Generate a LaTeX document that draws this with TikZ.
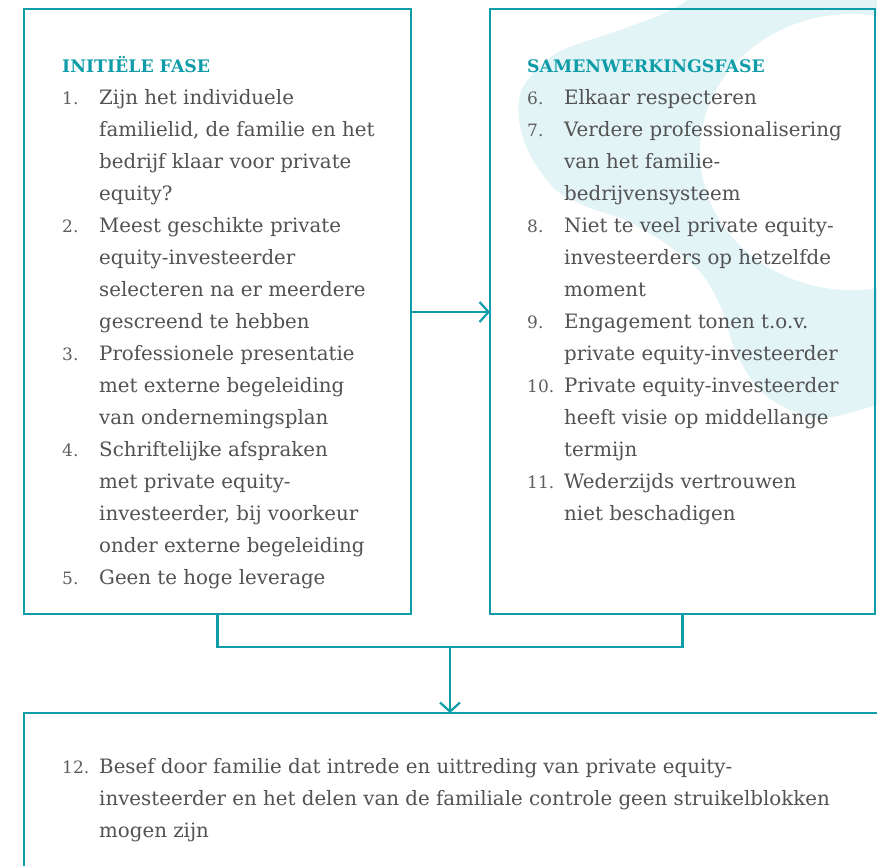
\documentclass[tikz,border=0pt]{standalone}
\usepackage{fontspec}
\setmainfont{DejaVu Serif}
\usetikzlibrary{arrows.meta}
\definecolor{teal1}{HTML}{0E9CA8}
\definecolor{blobc}{HTML}{E3F4F6}
\definecolor{txt}{HTML}{525252}
\definecolor{numc}{HTML}{5E5E5E}
\newcommand{\lns}[1]{\parbox[t]{820pt}{\raggedright #1}}
\begin{document}
\begin{tikzpicture}[x=1pt,y=-1pt,
  box/.style={draw=teal1,line width=2.2pt,inner sep=0pt,outer sep=0pt,anchor=north west},
  conn/.style={draw=teal1,line width=2.2pt},
  arr/.style={conn,-{Straight Barb[length=9pt,width=20pt,line width=2.2pt]}},
  head/.style={anchor=base west,inner sep=0pt,text=teal1,font=\fontsize{17.3}{32}\selectfont\bfseries},
  num/.style={anchor=base west,inner sep=0pt,text=numc,font=\fontsize{17}{32}\selectfont},
  item/.style={anchor=base west,inner sep=0pt,text=txt,font=\fontsize{19.8}{32}\selectfont},
]
\clip (0,0) rectangle (877,865);
\fill[white] (0,0) rectangle (877,865);
% background blob
\fill[blobc] plot[smooth] coordinates {(705,-30) (687,0) (660,15) (620,30) (557,53) (523,87) (519,120) (530,155) (556,190) (590,208) (625,220) (665,243) (700,272) (720,305) (737,355) (765,395) (813,418) (860,410) (900,395)} -- (900,-30) -- cycle;
\fill[white] (852,152) ellipse [x radius=152pt, y radius=138pt];
% boxes
\node[box,minimum width=387pt,minimum height=605pt] (L) at (24,9) {};
\node[box,minimum width=385pt,minimum height=605pt] (R) at (490,9) {};
\node[box,minimum width=880pt,minimum height=200pt] (B) at (24,713) {};
% connectors
\coordinate (a1) at (0,312);
\draw[arr] (L.east |- a1) -- (R.west |- a1);
\draw[conn] (L.south) -- ++(0,33) -| (R.south);
\coordinate (J) at (450,647);
\draw[arr] (J) -- (J |- B.north);
% left box
\node[head] (hL) at (62,72) {INITIËLE FASE};
\node[num] (n1) at (62,104) {1.};
\node[item] (t1) at (99,104) {\lns{Zijn het individuele\\familielid, de familie en het\\bedrijf klaar voor private\\equity?}};
\node[num] (n2) at (62,232) {2.};
\node[item] (t2) at (99,232) {\lns{Meest geschikte private\\equity-investeerder\\selecteren na er meerdere\\gescreend te hebben}};
\node[num] (n3) at (62,360) {3.};
\node[item] (t3) at (99,360) {\lns{Professionele presentatie\\met externe begeleiding\\van ondernemingsplan}};
\node[num] (n4) at (62,456) {4.};
\node[item] (t4) at (99,456) {\lns{Schriftelijke afspraken\\met private equity-\\investeerder, bij voorkeur\\onder externe begeleiding}};
\node[num] (n5) at (62,584) {5.};
\node[item] (t5) at (99,584) {\lns{Geen te hoge leverage}};
% right box
\node[head] (hR) at (527,72) {SAMENWERKINGSFASE};
\node[num] (n6) at (527,104) {6.};
\node[item] (t6) at (564,104) {\lns{Elkaar respecteren}};
\node[num] (n7) at (527,136) {7.};
\node[item] (t7) at (564,136) {\lns{Verdere professionalisering\\van het familie-\\bedrijvensysteem}};
\node[num] (n8) at (527,232) {8.};
\node[item] (t8) at (564,232) {\lns{Niet te veel private equity-\\investeerders op hetzelfde\\moment}};
\node[num] (n9) at (527,328) {9.};
\node[item] (t9) at (564,328) {\lns{Engagement tonen t.o.v.\\private equity-investeerder}};
\node[num] (n10) at (527,392) {10.};
\node[item] (t10) at (564,392) {\lns{Private equity-investeerder\\heeft visie op middellange\\termijn}};
\node[num] (n11) at (527,488) {11.};
\node[item] (t11) at (564,488) {\lns{Wederzijds vertrouwen\\niet beschadigen}};
% bottom box
\node[num] (n12) at (62,773) {12.};
\node[item] (t12) at (99,773) {\lns{Besef door familie dat intrede en uittreding van private equity-\\investeerder en het delen van de familiale controle geen struikelblokken\\mogen zijn}};
\end{tikzpicture}
\end{document}
